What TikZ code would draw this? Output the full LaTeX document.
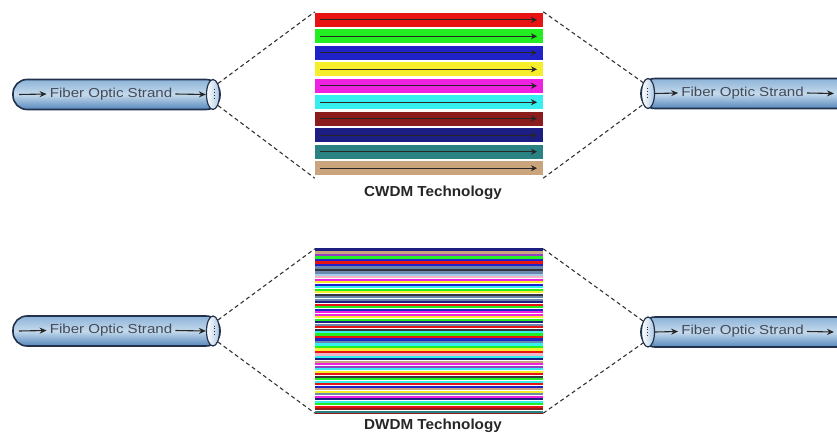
\documentclass[tikz,border=0pt]{standalone}
\usepackage{fontspec}
\setmainfont{Liberation Sans}
\usetikzlibrary{arrows.meta,shapes.geometric}

% fibre tube colours
\definecolor{fibline}{HTML}{22324C}
\definecolor{fibtop}{HTML}{8DB3D8}
\definecolor{fibmid}{HTML}{C4DAEC}
\definecolor{fibbot}{HTML}{5687BC}
\definecolor{capblue}{HTML}{B0CAE4}
\definecolor{fibtext}{HTML}{444A58}
\definecolor{dashgray}{HTML}{333333}
% wavelength colours
\definecolor{wR}{HTML}{E81414}
\definecolor{wG}{HTML}{22EE22}
\definecolor{wB}{HTML}{1E22C8}
\definecolor{wY}{HTML}{F6EE2A}
\definecolor{wM}{HTML}{EE22E0}
\definecolor{wC}{HTML}{36F0F0}
\definecolor{wDR}{HTML}{8A1C1C}
\definecolor{wN}{HTML}{1C1E84}
\definecolor{wT}{HTML}{2A8282}
\definecolor{wTan}{HTML}{C9A47C}
\definecolor{wS}{HTML}{6A88AE}
\definecolor{wP}{HTML}{F4B4C4}
\definecolor{wV}{HTML}{9440C4}
\definecolor{wK}{HTML}{34343E}
\definecolor{wL}{HTML}{A8CCEA}

\begin{document}
\begin{tikzpicture}[x=1pt,y=-1pt,
  fiber/.style={draw=fibline, line width=1.6pt, rounded corners=14pt,
    top color=fibtop, bottom color=fibbot, middle color=fibmid,
    inner sep=0pt, minimum height=30pt},
  fibcap/.style={ellipse, draw=fibline, line width=1.2pt, inner sep=0pt,
    minimum width=13pt, minimum height=30pt, left color=white, right color=capblue},
  fibtxt/.style={text=fibtext, inner sep=3pt, font=\fontsize{13}{15}\selectfont},
  fibarrow/.style={-{Stealth[length=7pt,width=6pt]}, line width=1.1pt, draw=black!85},
  beam/.style={-{Stealth[length=6pt,width=6pt]}, line width=0.9pt, draw=black!85},
  split/.style={dashed, dash pattern=on 4pt off 3pt, line width=1.1pt, draw=dashgray},
  techlabel/.style={text=black!85, inner sep=0pt, font=\bfseries\fontsize{14.5}{17}\selectfont},
  bandbox/.style={inner sep=0pt, minimum width=228pt}
]
\useasboundingbox (0,0) rectangle (837,433);

% ---------- CWDM ----------
% incoming fibre
\node[fiber, minimum width=207pt] (fibA) at (116.5,94.5) {};
\node[fibcap] (capA) at (213,94.5) {};
\draw[dotted, line width=0.9pt, fibline] (214,89) -- (214,100);
\node[fibtxt] (txtA) at (111,94) {\scalebox{1.16}[1]{Fiber Optic Strand}};
\coordinate (inA) at (19,94.5);
\draw[fibarrow] (inA) -- (txtA.west);
\draw[fibarrow] (txtA.east) -- (capA.west);

% coarse channels
\node[bandbox, minimum height=166pt] (cwdm) at (429,95) {};
\foreach \c [count=\i from 0] in {wR,wG,wB,wY,wM,wC,wDR,wN,wT,wTan}{
  \pgfmathsetmacro\yt{13+\i*16.48}
  \pgfmathsetmacro\yc{\yt+6.85}
  \fill[\c] (315,\yt) rectangle (543,\yt+13.7);
  \draw[beam] (320,\yc) -- (537,\yc);
}
\node[techlabel] (cwlabel) at (433,193) {\scalebox{1.05}[1]{CWDM Technology}};

% outgoing fibre
\node[fiber, minimum width=219pt] (fibB) at (750.5,93.5) {};
\node[fibcap] (capB) at (648,93.5) {};
\draw[dotted, line width=0.9pt, fibline] (647,88) -- (647,99);
\node[fibtxt] (txtB) at (742.5,93) {\scalebox{1.16}[1]{Fiber Optic Strand}};
\coordinate (outB) at (834,93.5);
\draw[fibarrow] (capB.east) -- (txtB.west);
\draw[fibarrow] (txtB.east) -- (outB);

% fan out / fan in
\draw[split] (capA.north east) -- (cwdm.north west);
\draw[split] (capA.south east) -- (cwdm.south west);
\draw[split] (cwdm.north east) -- (capB.north west);
\draw[split] (cwdm.south east) -- (capB.south west);

% ---------- DWDM ----------
\node[fiber, minimum width=207pt] (fibC) at (116.5,331) {};
\node[fibcap] (capC) at (213,331) {};
\draw[dotted, line width=0.9pt, fibline] (214,325.5) -- (214,336.5);
\node[fibtxt] (txtC) at (111,330.5) {\scalebox{1.16}[1]{Fiber Optic Strand}};
\coordinate (inC) at (19,331);
\draw[fibarrow] (inC) -- (txtC.west);
\draw[fibarrow] (txtC.east) -- (capC.west);

% dense channels
\node[bandbox, minimum height=164pt] (dwdm) at (429,331) {};
\foreach \c [count=\i from 0] in {wN,wTan,wV,wG,wB,wR,wB,wS,wK,wS,wL,wP,wM,wY,wB,wC,wG,wY,wK,wS,wS,wN,wR,wG,wB,wM,wM,wY,wG,wN,wS,wR,wK,wC,wG,wR,wB,wS,wC,wG,wY,wR,wP,wC,wN,wTan,wM,wV,wC,wY,wR,wK,wG,wC,wR,wB,wTan,wY,wS,wM,wN,wC,wG,wR,wDR,wT}{
  \pgfmathsetmacro\yt{249+\i*2.485}
  \fill[\c] (315,\yt) rectangle (543,\yt+2.15);
}
\draw[line width=1pt, wN] (dwdm.north west) -- (dwdm.north east);
\draw[line width=1pt, wDR] (dwdm.south west) -- (dwdm.south east);
\node[techlabel] (dwlabel) at (433,426) {\scalebox{1.05}[1]{DWDM Technology}};

\node[fiber, minimum width=219pt] (fibD) at (750.5,332) {};
\node[fibcap] (capD) at (648,332) {};
\draw[dotted, line width=0.9pt, fibline] (647,326.5) -- (647,337.5);
\node[fibtxt] (txtD) at (742.5,331.5) {\scalebox{1.16}[1]{Fiber Optic Strand}};
\coordinate (outD) at (834,332);
\draw[fibarrow] (capD.east) -- (txtD.west);
\draw[fibarrow] (txtD.east) -- (outD);

\draw[split] (capC.north east) -- (dwdm.north west);
\draw[split] (capC.south east) -- (dwdm.south west);
\draw[split] (dwdm.north east) -- (capD.north west);
\draw[split] (dwdm.south east) -- (capD.south west);
\end{tikzpicture}
\end{document}
